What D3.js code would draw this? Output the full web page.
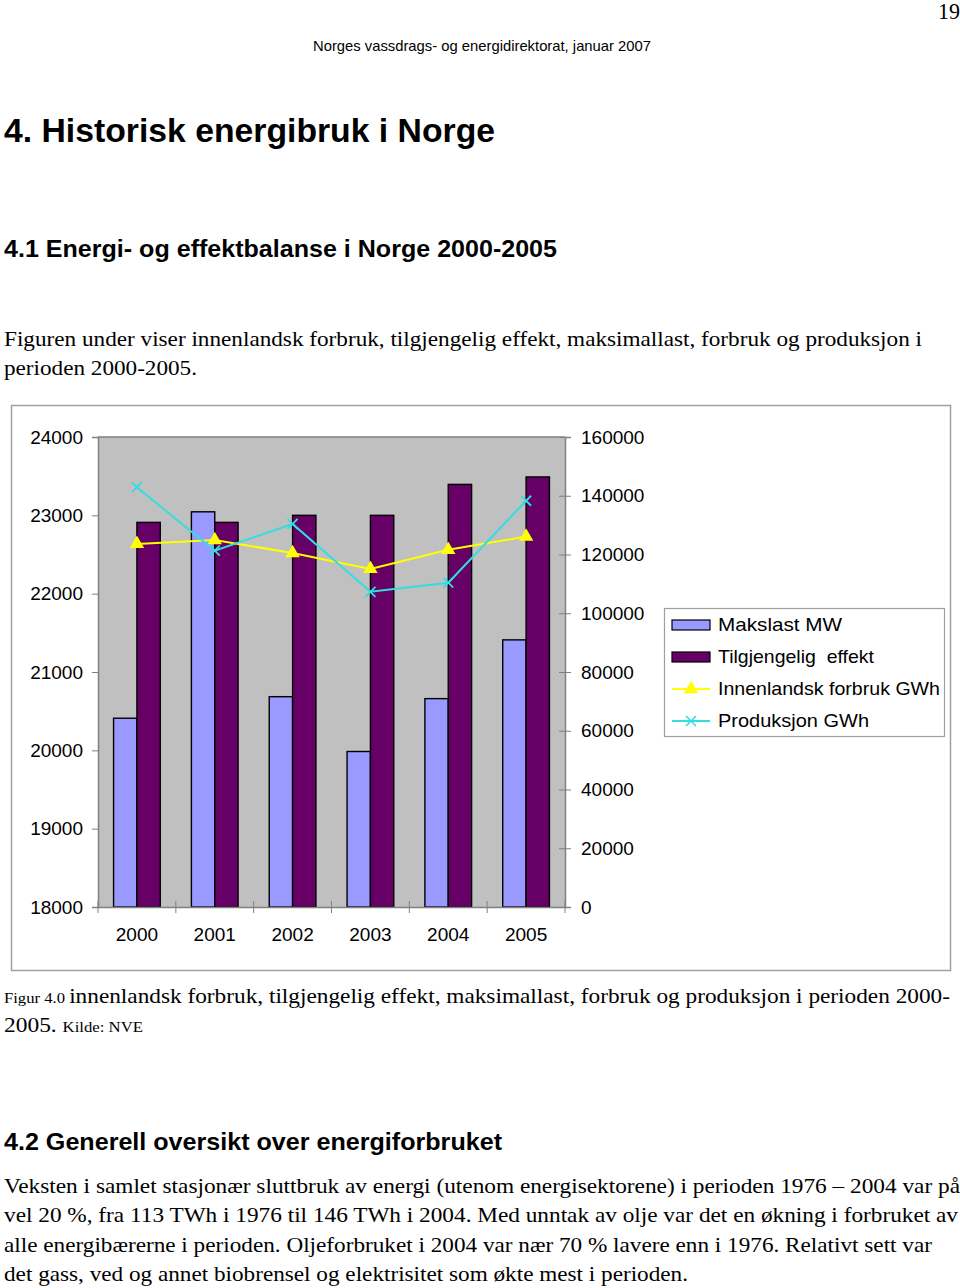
<!DOCTYPE html>
<html><head><meta charset="utf-8">
<script src="https://cdn.jsdelivr.net/npm/d3@7"></script>
<style>body{margin:0;background:#fff}svg{display:block}</style>
</head><body>
<svg id="c" width="960" height="1288"></svg>
<script>
const years = ["2000","2001","2002","2003","2004","2005"];
const makslast = [20410, 23045, 20685, 19985, 20660, 21410];
const tilgjengelig = [22910, 22910, 23000, 23000, 23395, 23490];
const innenlandsk = [123600, 124900, 120500, 115100, 121600, 126100];
const produksjon = [142900, 121300, 130400, 107300, 110400, 138300];
const leftTicks = [18000,19000,20000,21000,22000,23000,24000];
const rightTicks = [0,20000,40000,60000,80000,100000,120000,140000,160000];
const seriesNames = ["Makslast MW","Tilgjengelig  effekt","Innenlandsk forbruk GWh","Produksjon GWh"];

const svg = d3.select("#c");
const SANS = "'Liberation Sans', Arial, sans-serif";
const SERIF = "'Liberation Serif', 'Times New Roman', serif";

function txt(x,y,s,o){
  const t = svg.append("text").attr("x",x).attr("y",y).text(s)
    .attr("font-family",o.f||SERIF).attr("font-size",o.s||21)
    .attr("font-weight",o.b?"bold":"normal").attr("fill","#000");
  if(o.a) t.attr("text-anchor",o.a);
  if(o.w) t.attr("textLength",o.w).attr("lengthAdjust","spacingAndGlyphs");
  return t;
}

// page texts
txt(960,19,"19",{s:23,a:"end",w:22});
txt(482,51,"Norges vassdrags- og energidirektorat, januar 2007",{f:SANS,s:15,a:"middle",w:338});
txt(4,142,"4. Historisk energibruk i Norge",{f:SANS,s:33,b:true,w:491});
txt(4,257,"4.1 Energi- og effektbalanse i Norge 2000-2005",{f:SANS,s:24,b:true,w:553});
txt(4,346,"Figuren under viser innenlandsk forbruk, tilgjengelig effekt, maksimallast, forbruk og produksjon i",{s:21,w:918});
txt(4,375,"perioden 2000-2005.",{s:21,w:193});

// caption
const cap1 = svg.append("text").attr("x",4).attr("y",1003).attr("font-family",SERIF).attr("fill","#000");
cap1.append("tspan").attr("font-size",15).text("Figur 4.0 ");
cap1.append("tspan").attr("font-size",21).text("innenlandsk forbruk, tilgjengelig effekt, maksimallast, forbruk og produksjon i perioden 2000-");
cap1.attr("textLength",946).attr("lengthAdjust","spacingAndGlyphs");
const cap2 = svg.append("text").attr("x",4).attr("y",1032).attr("font-family",SERIF).attr("fill","#000");
cap2.append("tspan").attr("font-size",21).text("2005. ");
cap2.append("tspan").attr("font-size",15).text("Kilde: NVE");
cap2.attr("textLength",139).attr("lengthAdjust","spacingAndGlyphs");

txt(4,1150,"4.2 Generell oversikt over energiforbruket",{f:SANS,s:24,b:true,w:498});
txt(4,1193,"Veksten i samlet stasjonær sluttbruk av energi (utenom energisektorene) i perioden 1976 – 2004 var på",{s:21,w:956});
txt(4,1222,"vel 20 %, fra 113 TWh i 1976 til 146 TWh i 2004. Med unntak av olje var det en økning i forbruket av",{s:21,w:954});
txt(4,1252,"alle energibærerne i perioden. Oljeforbruket i 2004 var nær 70 % lavere enn i 1976. Relativt sett var",{s:21,w:928});
txt(4,1281,"det gass, ved og annet biobrensel og elektrisitet som økte mest i perioden.",{s:21,w:684});

// chart frame
svg.append("rect").attr("x",11.5).attr("y",405.5).attr("width",939).attr("height",565)
  .attr("fill","#fff").attr("stroke","#a0a0a0").attr("stroke-width",1.5);

const L=98, R=565, T=437, B=907;
const x = d3.scaleBand().domain(years).range([L,R]).padding(0);
const xi = d3.scaleBand().domain([0,1]).range([0.2*x.bandwidth(),0.8*x.bandwidth()]).padding(0);
const yL = d3.scaleLinear().domain([18000,24000]).range([B,T]);
const yR = d3.scaleLinear().domain([0,160000]).range([B,T]);

svg.append("rect").attr("x",L).attr("y",T).attr("width",R-L).attr("height",B-T)
  .attr("fill","#c0c0c0");
svg.append("line").attr("x1",L).attr("x2",R).attr("y1",T).attr("y2",T).attr("stroke","#808080").attr("stroke-width",1.5);

// bars
const barData = [makslast, tilgjengelig];
const barColors = ["#9999ff","#660066"];
barData.forEach((arr,si)=>{
  svg.append("g").selectAll("rect").data(arr).join("rect")
    .attr("x",(d,i)=>x(years[i])+xi(si))
    .attr("y",d=>yL(d))
    .attr("width",xi.bandwidth())
    .attr("height",d=>B-yL(d))
    .attr("fill",barColors[si]).attr("stroke","#000").attr("stroke-width",1.4);
});

// axes
const axL = svg.append("g").attr("transform",`translate(${L},0)`)
  .call(d3.axisLeft(yL).tickValues(leftTicks).tickSize(6).tickPadding(9).tickFormat(d3.format("d")));
const axR = svg.append("g").attr("transform",`translate(${R},0)`)
  .call(d3.axisRight(yR).tickValues(rightTicks).tickSize(6).tickPadding(10).tickFormat(d3.format("d")));
const axB = svg.append("g").attr("transform",`translate(0,${B})`)
  .call(d3.axisBottom(x).tickSize(0).tickPadding(21));
[axL,axR,axB].forEach(a=>{
  a.select(".domain").attr("stroke","#808080").attr("stroke-width",1.5);
  a.selectAll(".tick line").attr("stroke","#808080");
  a.selectAll("text").attr("font-family",SANS).attr("font-size",19).attr("fill","#000");
});
axR.selectAll(".tick line").attr("x1",-6);
axB.selectAll(".tick text").attr("dy","0.71em");
// category boundary ticks
svg.append("g").selectAll("line").data(years).join("line")
  .attr("x1",d=>x(d)).attr("x2",d=>x(d)).attr("y1",B-6).attr("y2",B+6)
  .attr("stroke","#808080");
svg.append("line").attr("x1",R).attr("x2",R).attr("y1",B-6).attr("y2",B+6).attr("stroke","#808080");

// lines
const cx = (i)=>x(years[i])+x.bandwidth()/2;
const line = d3.line().x((d,i)=>cx(i)).y(d=>yR(d));
const YEL="#ffff00", CY="#33dde0";
svg.append("path").datum(innenlandsk).attr("d",line).attr("fill","none").attr("stroke",YEL).attr("stroke-width",2);
svg.append("path").datum(produksjon).attr("d",line).attr("fill","none").attr("stroke",CY).attr("stroke-width",2);
const tri = d3.symbol().type(d3.symbolTriangle).size(90);
svg.append("g").selectAll("path").data(innenlandsk).join("path")
  .attr("d",tri).attr("transform",(d,i)=>`translate(${cx(i)},${yR(d)})`).attr("fill",YEL);
const xs = 5;
const cross = svg.append("g");
produksjon.forEach((d,i)=>{
  const px=cx(i), py=yR(d);
  cross.append("path").attr("d",`M${px-xs},${py-xs}L${px+xs},${py+xs}M${px-xs},${py+xs}L${px+xs},${py-xs}`)
    .attr("stroke",CY).attr("stroke-width",1.8);
});

// legend
const legW = [124,156,222,151];
svg.append("rect").attr("x",664.5).attr("y",608.5).attr("width",280).attr("height",128)
  .attr("fill","#fff").attr("stroke","#a0a0a0").attr("stroke-width",1.2);
const lg = svg.append("g");
seriesNames.forEach((n,i)=>{
  const cy = 625 + i*32;
  if(i<2){
    lg.append("rect").attr("x",672).attr("y",cy-5).attr("width",38).attr("height",10)
      .attr("fill",barColors[i]).attr("stroke","#000").attr("stroke-width",1.2);
  } else {
    const col = i===2?YEL:CY;
    lg.append("line").attr("x1",672).attr("x2",710).attr("y1",cy).attr("y2",cy).attr("stroke",col).attr("stroke-width",2);
    if(i===2) lg.append("path").attr("d",tri).attr("transform",`translate(691,${cy})`).attr("fill",YEL);
    else lg.append("path").attr("d",`M${691-xs},${cy-xs}L${691+xs},${cy+xs}M${691-xs},${cy+xs}L${691+xs},${cy-xs}`).attr("stroke",CY).attr("stroke-width",1.6);
  }
  lg.append("text").attr("x",718).attr("y",cy+6).text(n)
    .attr("xml:space","preserve").style("white-space","pre")
    .attr("textLength",legW[i]).attr("lengthAdjust","spacingAndGlyphs")
    .attr("font-family",SANS).attr("font-size",19).attr("fill","#000");
});
</script>
</body></html>
